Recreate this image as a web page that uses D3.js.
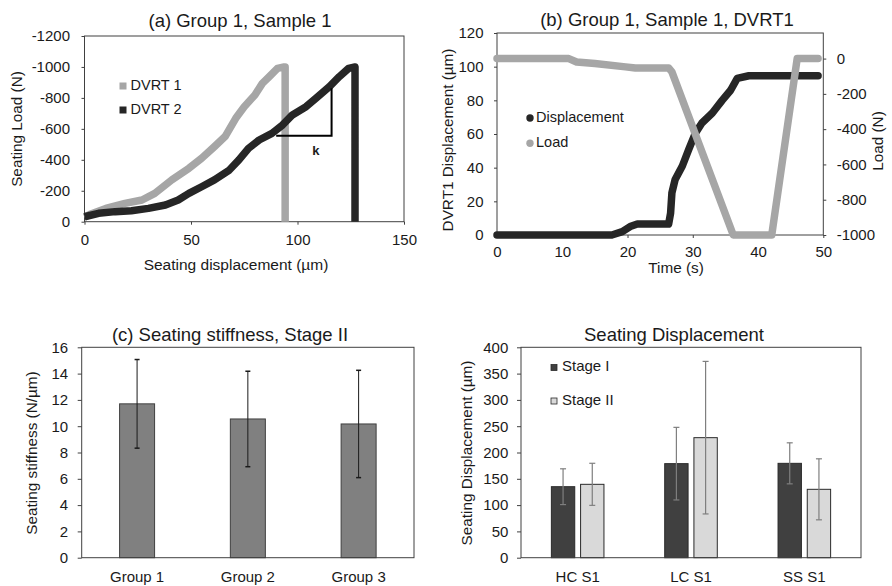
<!DOCTYPE html>
<html><head><meta charset="utf-8">
<script src="https://cdn.jsdelivr.net/npm/d3@7"></script>
<style>
body{margin:0;background:#fff;}
svg text{font-family:"Liberation Sans",Arial,sans-serif;fill:#1a1a1a;}
</style></head>
<body><svg id="c" width="892" height="586"></svg>
<script>
// ---------- Data ----------
// (a) Seating load vs displacement
const dvrt1Disp = [0, 3, 10, 19, 27, 33, 41, 49, 55, 61, 66, 71, 75, 80, 83.5, 86.7, 90.6, 93.7, 94.2, 94.2];
const dvrt1Load = [-30, -50, -86, -118, -140, -183, -270, -345, -410, -485, -550, -668, -743, -819, -894, -937, -991, -1000, -1000, 0];
const dvrt2Disp = [0, 6.6, 14.4, 22, 30, 38, 44, 49, 55, 61, 68, 72.5, 77, 82, 88, 93, 97.6, 104, 108.6, 115, 119.6, 124, 127, 127];
const dvrt2Load = [-32, -54, -65, -71, -86, -108, -140, -183, -226, -270, -334, -399, -474, -528, -571, -625, -690, -743, -797, -873, -937, -991, -1000, 0];
const kDisp = [90, 116, 116];
const kLoad = [-555, -555, -862];
const aXTicks = [0, 50, 100, 150];
const aYTicks = [0, -200, -400, -600, -800, -1000, -1200];
const aSeries = ["DVRT 1", "DVRT 2"];

// (b) DVRT1 displacement and load vs time
const dispTime = [0, 17.6, 19.2, 20.4, 21.5, 26.3, 26.6, 26.8, 27.3, 28.4, 29.4, 30.4, 31.4, 33, 34.5, 35.8, 36.8, 38.6, 42, 49.2];
const dispVal  = [0, 0, 2, 5, 6.5, 6.5, 13, 25, 33, 41, 51, 60.5, 66.5, 72.5, 80, 86, 93, 94.6, 94.6, 94.6];
const loadTime = [0, 11, 12.2, 15, 19.7, 21.2, 26.3, 26.8, 36.2, 42.1, 46.0, 49.2];
const loadVal  = [0, 0, -19, -28, -47, -53, -53, -75, -1000, -1000, 0, 0];
const bXTicks = [0, 10, 20, 30, 40, 50];
const bYTicks = [0, 20, 40, 60, 80, 100, 120];
const bY2Ticks = [0, -200, -400, -600, -800, -1000];
const bSeries = ["Displacement", "Load"];

// (c) Seating stiffness
const groups = ["Group 1", "Group 2", "Group 3"];
const stiffness = [11.7, 10.55, 10.17];
const stiffErr = [3.37, 3.63, 4.08];
const cYTicks = [0, 2, 4, 6, 8, 10, 12, 14, 16];

// (d) Seating displacement
const samples = ["HC S1", "LC S1", "SS S1"];
const stages = ["Stage I", "Stage II"];
const stage1 = [135, 178.8, 179.4];
const stage2 = [139.5, 228.2, 130];
const stage1Err = [34, 69, 39];
const stage2Err = [40, 145, 58];
const dYTicks = [0, 50, 100, 150, 200, 250, 300, 350, 400];

// ---------- Drawing ----------
const svg = d3.select("#c");
const axisCol = "#404040";
const tickFont = "15px";

function frame(g, x0, x1, y0, y1) {
  g.append("rect").attr("x", x0).attr("y", y1).attr("width", x1 - x0).attr("height", y0 - y1)
    .attr("fill", "none").attr("stroke", axisCol).attr("stroke-width", 1);
}
function styleAxis(sel) {
  sel.select(".domain").remove();
  sel.selectAll("line").attr("stroke", axisCol);
  sel.selectAll("text").attr("font-size", tickFont).attr("fill", "#1a1a1a");
}
function title(txt, x, y) {
  svg.append("text").attr("x", x).attr("y", y).attr("text-anchor", "middle")
    .attr("font-size", "18.5px").text(txt);
}
function vlabel(txt, x, y) {
  svg.append("text").attr("transform", `translate(${x},${y}) rotate(-90)`)
    .attr("text-anchor", "middle").attr("dominant-baseline", "middle")
    .attr("font-size", "15.3px").text(txt);
}

// ===== Panel (a) =====
{
  const x = d3.scaleLinear().domain([0, 150]).range([84.5, 404]);
  const y = d3.scaleLinear().domain([0, -1200]).range([221.7, 36]);
  const g = svg.append("g");
  frame(g, 84.5, 404, 221.7, 36);
  g.append("g").attr("transform", "translate(0,221.7)")
    .call(d3.axisBottom(x).tickValues(aXTicks).tickSize(3).tickPadding(10).tickFormat(d => String(d)))
    .call(styleAxis);
  g.append("g").attr("transform", "translate(84.5,0)")
    .call(d3.axisLeft(y).tickValues(aYTicks).tickSize(3).tickPadding(11.5).tickFormat(d => String(d)))
    .call(styleAxis);
  const line = d3.line().x(d => x(d[0])).y(d => y(d[1]));
  const s1 = dvrt1Disp.map((d, i) => [d, dvrt1Load[i]]);
  const s2 = dvrt2Disp.map((d, i) => [d, dvrt2Load[i]]);
  g.append("path").attr("d", line(s1)).attr("fill", "none").attr("stroke", "#a6a6a6")
    .attr("stroke-width", 7.5).attr("stroke-linejoin", "round");
  g.append("path").attr("d", line(s2)).attr("fill", "none").attr("stroke", "#262626")
    .attr("stroke-width", 7.5).attr("stroke-linejoin", "round");
  const kPts = kDisp.map((d, i) => [d, kLoad[i]]);
  g.append("path").attr("d", line(kPts)).attr("fill", "none").attr("stroke", "#000").attr("stroke-width", 2);
  g.append("text").attr("x", x(108.6)).attr("y", y(-452)).attr("text-anchor", "middle")
    .attr("dominant-baseline", "middle").attr("font-size", "13px").attr("font-weight", "bold").text("k");
  // legend
  const cols = ["#a6a6a6", "#262626"];
  aSeries.forEach((s, i) => {
    const ly = 86 + i * 24;
    g.append("rect").attr("x", 119.5).attr("y", ly - 3.5).attr("width", 7).attr("height", 7).attr("fill", cols[i]);
    g.append("text").attr("x", 130.5).attr("y", ly).attr("dominant-baseline", "middle")
      .attr("font-size", "14.5px").text(s);
  });
  title("(a) Group 1, Sample 1", 240, 27);
  vlabel("Seating Load (N)", 18, 129);
  svg.append("text").attr("x", 236).attr("y", 270).attr("text-anchor", "middle").attr("font-size", "15.5px")
    .text("Seating displacement (µm)");
}

// ===== Panel (b) =====
{
  const x = d3.scaleLinear().domain([0, 50]).range([497, 823.3]);
  const y = d3.scaleLinear().domain([0, 120]).range([235, 33]);
  const y2 = d3.scaleLinear().domain([-1000, 145]).range([235, 33]);
  const g = svg.append("g");
  frame(g, 497, 823.3, 235, 33);
  g.append("g").attr("transform", "translate(0,235)")
    .call(d3.axisBottom(x).tickValues(bXTicks).tickSize(3).tickPadding(8.4).tickFormat(d => String(d)))
    .call(styleAxis);
  g.append("g").attr("transform", "translate(497,0)")
    .call(d3.axisLeft(y).tickValues(bYTicks).tickSize(3).tickPadding(10.5).tickFormat(d => String(d)))
    .call(styleAxis);
  g.append("g").attr("transform", "translate(823.3,0)")
    .call(d3.axisRight(y2).tickValues(bY2Ticks).tickSize(3).tickPadding(10.4).tickFormat(d => String(d)))
    .call(styleAxis);
  const ld = d3.line().x(d => x(d[0])).y(d => y(d[1]));
  const ll = d3.line().x(d => x(d[0])).y(d => y2(d[1]));
  const sd = dispTime.map((t, i) => [t, dispVal[i]]);
  const sl = loadTime.map((t, i) => [t, loadVal[i]]);
  g.append("path").attr("d", ld(sd)).attr("fill", "none").attr("stroke", "#262626")
    .attr("stroke-width", 7.5).attr("stroke-linejoin", "round").attr("stroke-linecap", "round");
  g.append("path").attr("d", ll(sl)).attr("fill", "none").attr("stroke", "#a6a6a6")
    .attr("stroke-width", 7.5).attr("stroke-linejoin", "round").attr("stroke-linecap", "round");
  const cols = ["#262626", "#a6a6a6"];
  bSeries.forEach((s, i) => {
    const ly = 118 + i * 25.3;
    g.append("circle").attr("cx", 530).attr("cy", ly).attr("r", 3.7).attr("fill", cols[i]);
    g.append("text").attr("x", 536).attr("y", ly).attr("dominant-baseline", "middle")
      .attr("font-size", "14.5px").text(s);
  });
  title("(b) Group 1, Sample 1, DVRT1", 667, 26);
  vlabel("DVRT1 Displacement (µm)", 449, 140);
  vlabel("Load (N)", 879, 141);
  svg.append("text").attr("x", 676).attr("y", 273).attr("text-anchor", "middle").attr("font-size", "15.3px")
    .text("Time (s)");
}

// ===== Panel (c) =====
{
  const x = d3.scaleBand().domain(groups).range([81.7, 414]).paddingInner(0.684).paddingOuter(0.342);
  const y = d3.scaleLinear().domain([0, 16]).range([557.7, 347.3]);
  const g = svg.append("g");
  g.selectAll("rect.bar").data(groups).join("rect").attr("class", "bar")
    .attr("x", d => x(d)).attr("width", x.bandwidth())
    .attr("y", (d, i) => y(stiffness[i])).attr("height", (d, i) => y(0) - y(stiffness[i]))
    .attr("fill", "#808080").attr("stroke", "#404040").attr("stroke-width", 1);
  groups.forEach((d, i) => {
    const cx = x(d) + x.bandwidth() / 2;
    const hi = y(stiffness[i] + stiffErr[i]), lo = y(stiffness[i] - stiffErr[i]);
    g.append("line").attr("x1", cx).attr("x2", cx).attr("y1", hi).attr("y2", lo).attr("stroke", "#1a1a1a").attr("stroke-width", 1);
    [hi, lo].forEach(v => g.append("line").attr("x1", cx - 2.5).attr("x2", cx + 2.5).attr("y1", v).attr("y2", v)
      .attr("stroke", "#1a1a1a").attr("stroke-width", 1.5));
  });
  frame(g, 81.7, 414, 557.7, 347.3);
  g.append("g").attr("transform", "translate(81.7,0)")
    .call(d3.axisLeft(y).tickValues(cYTicks).tickSize(4).tickPadding(9.5).tickFormat(d => String(d)))
    .call(styleAxis);
  g.append("g").attr("transform", "translate(0,557.7)")
    .call(d3.axisBottom(x).tickSize(0).tickPadding(13.7))
    .call(styleAxis);
  title("(c) Seating stiffness, Stage II", 230, 341);
  vlabel("Seating stiffness (N/µm)", 33, 453);
}

// ===== Panel (d) =====
{
  const x = d3.scaleBand().domain(samples).range([521, 861]);
  const y = d3.scaleLinear().domain([0, 400]).range([557.7, 347.3]);
  const sub = d3.scaleBand().domain(stages).range([0, x.bandwidth()]).paddingInner(0.2).paddingOuter(1.04);
  const vals = [stage1, stage2], errs = [stage1Err, stage2Err];
  const fills = ["#404040", "#d9d9d9"];
  const g = svg.append("g");
  stages.forEach((st, si) => {
    g.selectAll("rect.s" + si).data(samples).join("rect").attr("class", "s" + si)
      .attr("x", d => x(d) + sub(st)).attr("width", sub.bandwidth())
      .attr("y", (d, i) => y(vals[si][i])).attr("height", (d, i) => y(0) - y(vals[si][i]))
      .attr("fill", fills[si]).attr("stroke", "#2a2a2a").attr("stroke-width", 1);
    samples.forEach((d, i) => {
      const cx = x(d) + sub(st) + sub.bandwidth() / 2;
      const hi = y(vals[si][i] + errs[si][i]), lo = y(vals[si][i] - errs[si][i]);
      g.append("line").attr("x1", cx).attr("x2", cx).attr("y1", hi).attr("y2", lo).attr("stroke", "#7f7f7f").attr("stroke-width", 1.2);
      [hi, lo].forEach(v => g.append("line").attr("x1", cx - 3).attr("x2", cx + 3).attr("y1", v).attr("y2", v)
        .attr("stroke", "#7f7f7f").attr("stroke-width", 1.2));
    });
  });
  frame(g, 521, 861, 557.7, 347.3);
  g.append("g").attr("transform", "translate(521,0)")
    .call(d3.axisLeft(y).tickValues(dYTicks).tickSize(4).tickPadding(8.7).tickFormat(d => String(d)))
    .call(styleAxis);
  g.append("g").attr("transform", "translate(0,557.7)")
    .call(d3.axisBottom(x).tickSize(0).tickPadding(13.7))
    .call(styleAxis);
  stages.forEach((st, i) => {
    const ly = 367.5 + i * 33.5;
    g.append("rect").attr("x", 551).attr("y", ly - 3).attr("width", 6).attr("height", 6)
      .attr("fill", fills[i]).attr("stroke", "#2a2a2a").attr("stroke-width", 0.8);
    g.append("text").attr("x", 562).attr("y", ly).attr("dominant-baseline", "middle")
      .attr("font-size", "15px").text(st);
  });
  title("Seating Displacement", 674, 341);
  vlabel("Seating Displacement (µm)", 468, 453);
}
</script></body></html>
